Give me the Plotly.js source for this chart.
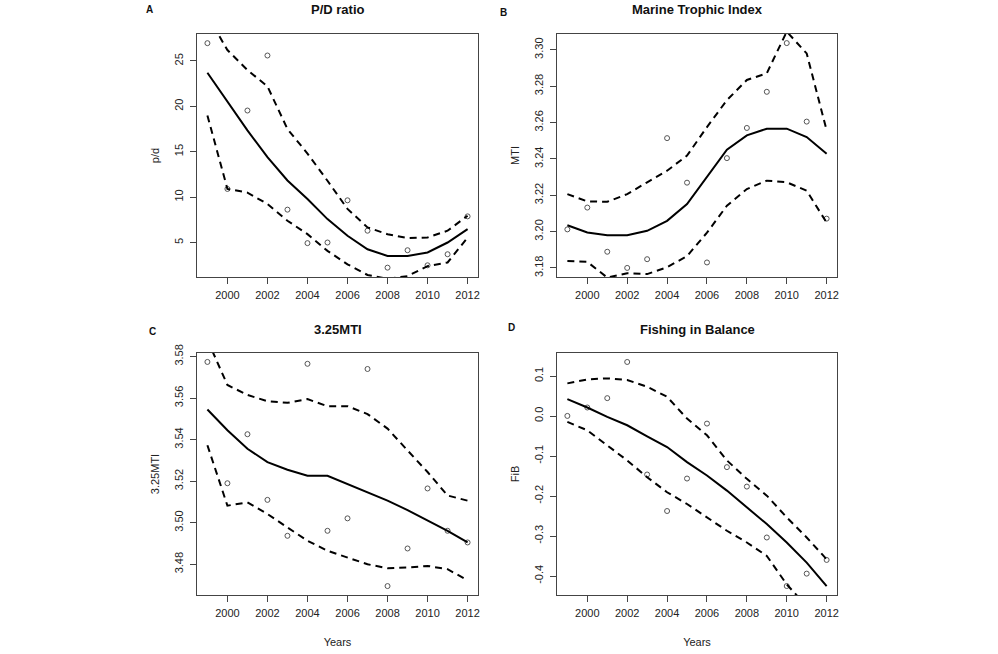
<!DOCTYPE html>
<html>
<head>
<meta charset="utf-8">
<script src="https://cdn.plot.ly/plotly-3.0.1.min.js"></script>
<style>html,body{margin:0;padding:0;background:#fff;}#chart{width:998px;height:654px;}</style>
</head>
<body>
<div id="chart"></div>
<script>
const years = [1999,2000,2001,2002,2003,2004,2005,2006,2007,2008,2009,2010,2011,2012];
const xTickVals = [2000,2002,2004,2006,2008,2010,2012];

// A: P/D ratio
const pdPoints = [26.96,10.9,19.54,25.6,8.62,4.93,5.0,9.65,6.3,2.23,4.15,2.49,3.71,7.88];
const pdFit    = [23.7,20.5,17.36,14.4,11.83,9.8,7.58,5.74,4.26,3.52,3.52,3.9,5.0,6.48];
const pdUpper  = [30.0,26.2,24.0,22.2,17.5,14.8,11.8,8.7,6.66,5.92,5.48,5.55,6.3,7.95];
const pdLower  = [19.0,10.9,10.5,9.24,7.4,5.92,4.08,2.6,1.42,1.0,1.3,2.4,2.8,5.55];
const pdTicks  = [5,10,15,20,25];

// B: Marine Trophic Index
const mtiPoints = [3.2012,3.2132,3.1889,3.1800,3.1848,3.2514,3.2269,3.1830,3.2404,3.2570,3.2769,3.3037,3.2605,3.2071];
const mtiFit    = [3.2035,3.1995,3.1980,3.1980,3.2004,3.2059,3.2151,3.2299,3.2450,3.2529,3.2566,3.2566,3.2520,3.2428];
const mtiUpper  = [3.2206,3.2166,3.2164,3.2206,3.2271,3.2335,3.2418,3.2575,3.2723,3.2834,3.2871,3.3100,3.2980,3.2557];
const mtiLower  = [3.1838,3.1833,3.1747,3.1771,3.1766,3.1804,3.1865,3.1994,3.2142,3.2234,3.2280,3.2271,3.2225,3.2049];
const mtiTicks  = [3.18,3.20,3.22,3.24,3.26,3.28,3.30];

// C: 3.25MTI
const m325Points = [3.5774,3.5190,3.5426,3.5110,3.4937,3.5765,3.4961,3.5021,3.5740,3.4695,3.4876,3.5165,3.4961,3.4905];
const m325Fit    = [3.5545,3.5445,3.5356,3.5292,3.5255,3.5226,3.5226,3.5187,3.5147,3.5106,3.5061,3.5013,3.4961,3.4905];
const m325Upper  = [3.5880,3.5663,3.5615,3.5585,3.5577,3.5595,3.5561,3.5561,3.5523,3.5453,3.5348,3.5244,3.5131,3.5106];
const m325Lower  = [3.5373,3.5082,3.5098,3.5042,3.4977,3.4913,3.4865,3.4832,3.4800,3.4781,3.4784,3.4792,3.4776,3.4723];
const m325Ticks  = [3.48,3.50,3.52,3.54,3.56,3.58];

// D: Fishing in Balance
const fibPoints = [0.0003,0.0213,0.0447,0.1352,-0.1462,-0.2375,-0.1563,-0.0189,-0.1278,-0.1764,-0.3037,-0.4251,-0.3941,-0.3598];
const fibFit    = [0.0422,0.0213,-0.0022,-0.0231,-0.0508,-0.0776,-0.1152,-0.1487,-0.1864,-0.2283,-0.2702,-0.3162,-0.3665,-0.4251];
const fibUpper  = [0.0816,0.0916,0.0941,0.0900,0.0732,0.0481,-0.0064,-0.0482,-0.1110,-0.1571,-0.1990,-0.2534,-0.3037,-0.3581];
const fibLower  = [-0.0147,-0.0357,-0.0734,-0.1110,-0.1529,-0.1906,-0.2199,-0.2534,-0.2869,-0.3162,-0.3497,-0.4209,-0.4750,-0.5300];
const fibTicks  = [-0.4,-0.3,-0.2,-0.1,0.0,0.1];
const fibTickText = ['-0.4','-0.3','-0.2','-0.1','0.0','0.1'];

const panels = [
  {pts: pdPoints, fit: pdFit, up: pdUpper, lo: pdLower, xa:'x', ya:'y'},
  {pts: mtiPoints, fit: mtiFit, up: mtiUpper, lo: mtiLower, xa:'x2', ya:'y2'},
  {pts: m325Points, fit: m325Fit, up: m325Upper, lo: m325Lower, xa:'x3', ya:'y3'},
  {pts: fibPoints, fit: fibFit, up: fibUpper, lo: fibLower, xa:'x4', ya:'y4'}
];

const traces = [];
panels.forEach(p => {
  traces.push({x: years, y: p.pts, xaxis: p.xa, yaxis: p.ya, type:'scatter', mode:'markers',
    marker:{symbol:'circle-open', size:5, color:'#555', line:{width:1, color:'#555'}}, hoverinfo:'skip'});
  traces.push({x: years, y: p.fit, xaxis: p.xa, yaxis: p.ya, type:'scatter', mode:'lines',
    line:{color:'#000', width:2}, hoverinfo:'skip'});
  traces.push({x: years, y: p.up, xaxis: p.xa, yaxis: p.ya, type:'scatter', mode:'lines',
    line:{color:'#000', width:2, dash:'7px,5px'}, hoverinfo:'skip'});
  traces.push({x: years, y: p.lo, xaxis: p.xa, yaxis: p.ya, type:'scatter', mode:'lines',
    line:{color:'#000', width:2, dash:'7px,5px'}, hoverinfo:'skip'});
});

const FONT = 'Liberation Sans, Arial, sans-serif';
const tickFont = {family: FONT, size: 11, color: '#222'};
const xDomL = [197/998, 478/998], xDomR = [557/998, 837/998];
const yDomT = [1-277/654, 1-34/654], yDomB = [1-595/654, 1-353/654];

function xAxis(dom, anchor, withTitle) {
  const a = {domain: dom, anchor: anchor, range:[1998.48, 2012.52], tickvals: xTickVals,
    ticks:'outside', ticklen:6, tickwidth:1, tickcolor:'#444', showline:true, mirror:true,
    linecolor:'#444', linewidth:1, showgrid:false, zeroline:false, tickfont: tickFont, fixedrange:true,
    ticklabelstandoff: 2};
  if (withTitle) a.title = {text:'Years', font:{family:FONT, size:11, color:'#222'}, standoff: 20};
  return a;
}
function yAxis(dom, anchor, range, tickvals, ticktext, fmt, title) {
  const a = {domain: dom, anchor: anchor, range: range, tickvals: tickvals, tickangle: -90,
    ticks:'outside', ticklen:6, tickwidth:1, tickcolor:'#444', showline:true, mirror:true,
    linecolor:'#444', linewidth:1, showgrid:false, zeroline:false, tickfont: tickFont, fixedrange:true,
    ticklabelstandoff: 3,
    title: {text: title, font:{family:FONT, size:11, color:'#222'}, standoff: 10}};
  if (ticktext) a.ticktext = ticktext;
  if (fmt) a.tickformat = fmt;
  return a;
}

const layout = {
  width: 998, height: 654,
  margin: {l:0, r:0, t:0, b:0},
  paper_bgcolor:'#fff', plot_bgcolor:'#fff',
  showlegend: false,
  xaxis: xAxis(xDomL, 'y', false),
  yaxis: yAxis(yDomT, 'x', [1.2, 27.97], pdTicks, null, null, 'p/d'),
  xaxis2: xAxis(xDomR, 'y2', false),
  yaxis2: yAxis(yDomT, 'x2', [3.1750, 3.3087], mtiTicks, null, '.2f', 'MTI'),
  xaxis3: xAxis(xDomL, 'y3', true),
  yaxis3: yAxis(yDomB, 'x3', [3.4652, 3.5817], m325Ticks, null, '.2f', '3.25MTI'),
  xaxis4: xAxis(xDomR, 'y4', true),
  yaxis4: yAxis(yDomB, 'x4', [-0.4475, 0.1576], fibTicks, fibTickText, null, 'FiB'),
  annotations: [
    {text:'<b>P/D ratio</b>', x:(xDomL[0]+xDomL[1])/2, y:1-10/654},
    {text:'<b>Marine Trophic Index</b>', x:(xDomR[0]+xDomR[1])/2, y:1-10/654},
    {text:'<b>3.25MTI</b>', x:(xDomL[0]+xDomL[1])/2, y:1-329/654},
    {text:'<b>Fishing in Balance</b>', x:(xDomR[0]+xDomR[1])/2, y:1-329/654},
  ].map(a => Object.assign(a, {xref:'paper', yref:'paper', showarrow:false, xanchor:'center', yanchor:'middle',
      font:{family:FONT, size:13, color:'#111'}})).concat([
    {text:'<b>A</b>', x:149/998, y:1-10/654},
    {text:'<b>B</b>', x:503/998, y:1-12/654},
    {text:'<b>C</b>', x:152/998, y:1-331/654},
    {text:'<b>D</b>', x:511/998, y:1-328/654},
  ].map(a => Object.assign(a, {xref:'paper', yref:'paper', showarrow:false, xanchor:'center', yanchor:'middle',
      font:{family:FONT, size:10, color:'#111'}})))
};

Plotly.newPlot('chart', traces, layout, {staticPlot:true, displayModeBar:false});
</script>
</body>
</html>
